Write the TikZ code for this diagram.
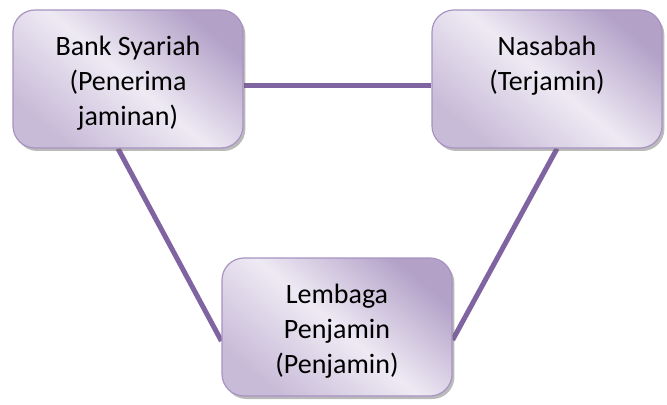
\documentclass[tikz,border=0pt]{standalone}
\usepackage{fontspec}
\setmainfont{Carlito}
\usetikzlibrary{shadows}
\usetikzlibrary{backgrounds}
\definecolor{boxdark}{HTML}{B3A1C8}
\definecolor{boxlight}{HTML}{EEEAF4}
\definecolor{boxedge}{HTML}{A893C2}
\definecolor{linkpurple}{HTML}{8064A2}
\tikzset{party/.style={rectangle,rounded corners=11pt,draw=boxedge,line width=0.6pt,inner sep=0pt,minimum width=115pt,minimum height=69pt,top color=boxdark,bottom color=boxdark!65!boxlight,middle color=boxlight,shading angle=-40,drop shadow={shadow xshift=1.2pt,shadow yshift=-1.5pt,opacity=0.45,fill=black!60},font=\fontsize{14}{17.5}\selectfont},
link/.style={linkpurple,line width=2.5pt}}
\newcommand{\partytext}[1]{\parbox[t][43pt][t]{110pt}{\centering #1}}

\begin{document}
\begin{tikzpicture}[x=0.5pt,y=-0.5pt]
\useasboundingbox (0,0) rectangle (667,405);
\node (bank) at (128,79) [party] {\partytext{Bank Syariah\\(Penerima\\jaminan)}};
\node (nasabah) at (547,79) [party] {\partytext{Nasabah\\(Terjamin)}};
\node (lembaga) at (337,327) [party] {\partytext{Lembaga\\Penjamin\\(Penjamin)}};

% connectors behind the boxes
\begin{scope}[on background layer]
\draw[link] ([yshift=-3.5pt]bank.east) -- ([yshift=-3.5pt]nasabah.west);
\draw[link] ([xshift=-5pt]bank.south) -- ([yshift=-7pt]lembaga.west);
\draw[link] ([xshift=5pt]nasabah.south) -- ([yshift=-6.5pt]lembaga.east);
\end{scope}
\end{tikzpicture}
\end{document}
